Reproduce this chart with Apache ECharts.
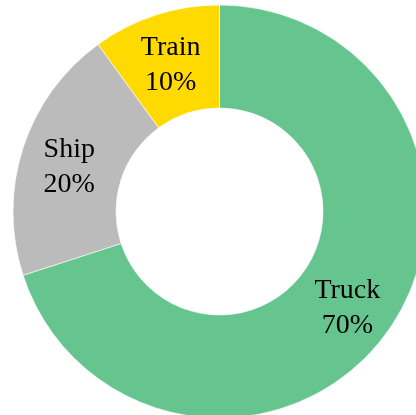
<!DOCTYPE html>
<html>
<head>
<meta charset="utf-8">
<script src="https://cdn.jsdelivr.net/npm/echarts@6/dist/echarts.min.js"></script>
<style>
html,body{margin:0;padding:0;background:#fff;}
#chart{width:416px;height:415px;}
</style>
</head>
<body>
<div id="chart"></div>
<script>
var categories = ['Truck', 'Ship', 'Train'];
var values = [70, 20, 10];
var colors = ['#66C48E', '#BBBBBB', '#FFDA00'];

var chart = echarts.init(document.getElementById('chart'), null, {renderer: 'canvas'});
var data = categories.map(function (c, i) {
  return {name: c, value: values[i], itemStyle: {color: colors[i]}};
});
var font = '"Liberation Serif", serif';
chart.setOption({
  animation: false,
  series: [{
    type: 'pie',
    center: [219.5, 211.5],
    radius: [103.5, 206.5],
    startAngle: 90,
    clockwise: true,
    data: data,
    itemStyle: {borderColor: '#ffffff', borderWidth: 0.6},
    label: {
      show: true,
      position: 'inside',
      formatter: '{t|{b}}\n{v|{d}%}',
      fontFamily: font,
      fontSize: 28,
      color: '#000000',
      rich: {
        t: {fontFamily: font, fontSize: 28, lineHeight: 35, padding: [8, 0, 0, 0], color: '#000000'},
        v: {fontFamily: font, fontSize: 28, lineHeight: 35, padding: [8, 0, 0, 0], color: '#000000'}
      }
    },
    labelLine: {show: false},
    emphasis: {disabled: true}
  }]
});
</script>
</body>
</html>
